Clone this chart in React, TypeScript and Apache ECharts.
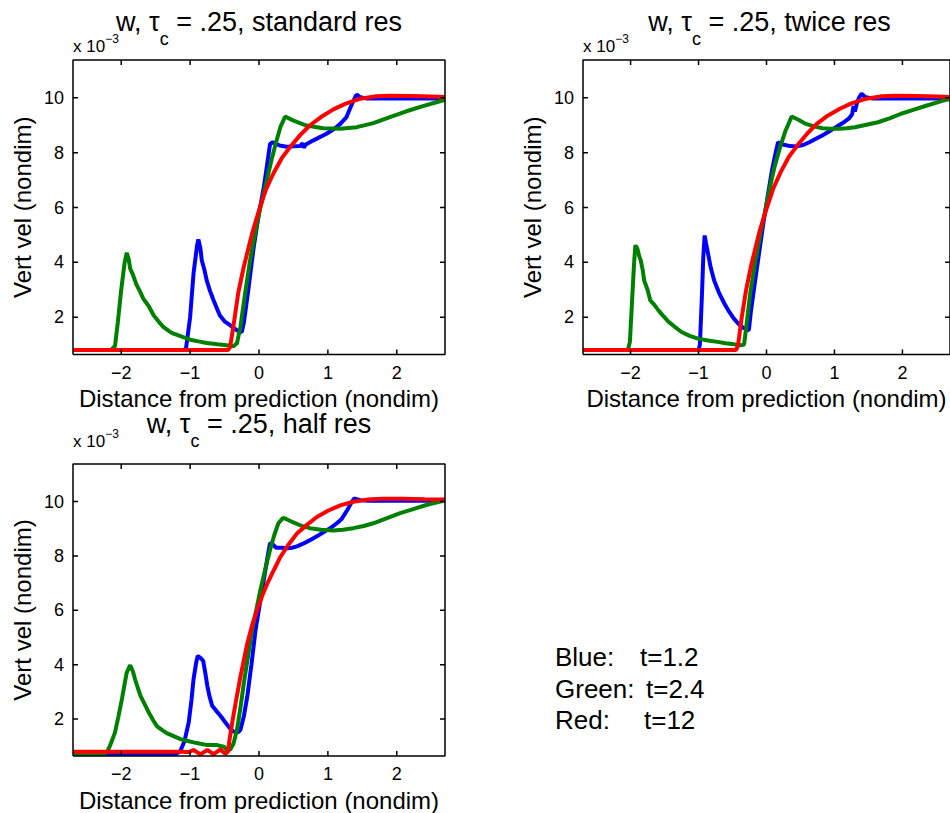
import React, { useEffect, useRef } from 'react';
import * as echarts from 'echarts';

const FONT = '"Liberation Sans", Arial, Helvetica, sans-serif';

// ---------- labels ----------
const panelTitles = ['standard res', 'twice res', 'half res'];
const xLabel = 'Distance from prediction (nondim)';
const yLabel = 'Vert vel (nondim)';
const legendNames = ['Blue:', 'Green:', 'Red:'];
const legendTimes = ['t=1.2', 't=2.4', 't=12'];

// axis limits (y in units of 1e-3) and tick values
const xLimits = [-2.7, 2.7];
const yLimits = [0.64, 11.38];
const xTickVals = [-2, -1, 0, 1, 2];
const yTickVals = [2, 4, 6, 8, 10];

// ---------- data: [distance, vert vel x1e3] ----------
const blueStd = [
  [-2.7, 0.8], [-1.1, 0.8], [-1.06, 0.85], [-1.0, 2.0], [-0.95, 3.6], [-0.9, 4.6], [-0.88, 4.84], [-0.85, 4.5],
  [-0.83, 4.07], [-0.79, 3.7], [-0.76, 3.35], [-0.71, 2.95], [-0.66, 2.62], [-0.57, 2.07], [-0.5, 1.85],
  [-0.42, 1.71], [-0.32, 1.52], [-0.25, 1.46], [-0.22, 1.8], [-0.16, 2.9], [-0.08, 4.5], [0.0, 5.8],
  [0.07, 6.74], [0.12, 7.6], [0.16, 8.32], [0.2, 8.38], [0.3, 8.26], [0.4, 8.22], [0.5, 8.23], [0.6, 8.24],
  [0.63, 8.35], [0.65, 8.18], [0.68, 8.3], [0.79, 8.45], [0.98, 8.69], [1.1, 8.88], [1.18, 9.05], [1.27, 9.3],
  [1.34, 9.72], [1.4, 10.05], [1.42, 10.12], [1.46, 10.03], [1.55, 9.98], [2.0, 9.98], [2.7, 9.98],
];
const greenStd = [
  [-2.7, 0.8], [-2.15, 0.8], [-2.09, 0.95], [-2.05, 1.8], [-2.0, 3.0], [-1.95, 4.0], [-1.92, 4.35], [-1.89, 4.1],
  [-1.87, 3.77], [-1.83, 3.55], [-1.78, 3.2], [-1.73, 2.95], [-1.68, 2.68], [-1.6, 2.4], [-1.53, 2.07],
  [-1.46, 1.85], [-1.39, 1.65], [-1.3, 1.48], [-1.24, 1.4], [-1.1, 1.27], [-1.0, 1.18], [-0.88, 1.12],
  [-0.76, 1.06], [-0.6, 1.01], [-0.47, 0.98], [-0.37, 0.94], [-0.32, 1.05], [-0.27, 1.64], [-0.2, 2.9],
  [-0.13, 4.07], [-0.06, 5.0], [0.01, 5.89], [0.1, 6.85], [0.18, 7.72], [0.25, 8.4], [0.31, 8.93], [0.38, 9.32],
  [0.5, 9.17], [0.69, 8.99], [0.93, 8.89], [1.18, 8.87], [1.42, 8.93], [1.66, 9.08], [1.9, 9.3], [2.14, 9.51],
  [2.38, 9.7], [2.55, 9.82], [2.7, 9.93],
];
const redStd = [
  [-2.7, 0.8], [-0.45, 0.8], [-0.42, 0.9], [-0.37, 1.7], [-0.3, 2.9], [-0.22, 3.85], [-0.1, 5.05], [0.0, 5.9],
  [0.1, 6.65], [0.21, 7.25], [0.33, 7.8], [0.45, 8.2], [0.6, 8.65], [0.74, 9.0], [0.9, 9.3], [1.08, 9.58],
  [1.25, 9.78], [1.47, 9.97], [1.7, 10.06], [1.9, 10.08], [2.2, 10.07], [2.5, 10.05], [2.7, 10.03],
];

const blueTwice = [
  [-2.7, 0.8], [-1.0, 0.8], [-0.98, 1.0], [-0.95, 2.8], [-0.93, 4.2], [-0.91, 4.98], [-0.89, 4.7], [-0.86, 4.32],
  [-0.82, 3.8], [-0.77, 3.34], [-0.7, 2.9], [-0.62, 2.5], [-0.55, 2.2], [-0.48, 1.95], [-0.42, 1.78],
  [-0.36, 1.64], [-0.3, 1.56], [-0.26, 1.52], [-0.23, 2.2], [-0.16, 3.46], [-0.1, 4.5], [-0.04, 5.53],
  [0.02, 6.45], [0.08, 7.35], [0.13, 7.95], [0.17, 8.38], [0.24, 8.3], [0.35, 8.24], [0.44, 8.23], [0.54, 8.28],
  [0.63, 8.38], [0.72, 8.5], [0.82, 8.63], [0.92, 8.77], [1.02, 8.93], [1.12, 9.08], [1.21, 9.24], [1.26, 9.4],
  [1.28, 9.7], [1.3, 9.5], [1.33, 9.8], [1.36, 10.0], [1.4, 10.15], [1.45, 10.03], [1.55, 9.98], [2.0, 9.98],
  [2.7, 9.98],
];
const greenTwice = [
  [-2.7, 0.8], [-2.04, 0.8], [-2.01, 1.1], [-1.98, 2.5], [-1.95, 3.9], [-1.93, 4.62], [-1.9, 4.5], [-1.87, 4.2],
  [-1.85, 4.07], [-1.82, 3.7], [-1.8, 3.34], [-1.75, 3.0], [-1.71, 2.61], [-1.65, 2.45], [-1.59, 2.25],
  [-1.52, 2.05], [-1.44, 1.83], [-1.35, 1.65], [-1.25, 1.46], [-1.13, 1.32], [-1.01, 1.22], [-0.86, 1.15],
  [-0.72, 1.1], [-0.6, 1.05], [-0.48, 1.01], [-0.36, 0.98], [-0.33, 1.0], [-0.3, 1.6], [-0.24, 2.86],
  [-0.17, 3.95], [-0.09, 5.05], [0.0, 6.1], [0.05, 6.74], [0.12, 7.5], [0.2, 8.2], [0.28, 8.8], [0.37, 9.32],
  [0.47, 9.2], [0.58, 9.05], [0.7, 8.96], [0.82, 8.89], [0.94, 8.87], [1.06, 8.87], [1.18, 8.89], [1.3, 8.93],
  [1.47, 9.02], [1.64, 9.11], [1.81, 9.25], [1.98, 9.42], [2.17, 9.57], [2.36, 9.72], [2.6, 9.9], [2.7, 9.96],
];
const redTwice = [
  [-2.7, 0.8], [-0.45, 0.8], [-0.42, 0.95], [-0.37, 1.9], [-0.3, 3.0], [-0.22, 3.95], [-0.1, 5.15], [0.0, 5.95],
  [0.1, 6.7], [0.21, 7.3], [0.33, 7.85], [0.45, 8.25], [0.6, 8.7], [0.74, 9.05], [0.9, 9.35], [1.08, 9.6],
  [1.25, 9.8], [1.47, 9.97], [1.7, 10.06], [1.9, 10.08], [2.2, 10.07], [2.5, 10.05], [2.7, 10.03],
];

const blueHalf = [
  [-2.7, 0.72], [-1.2, 0.72], [-1.14, 0.83], [-1.08, 1.2], [-1.02, 1.88], [-0.98, 2.7], [-0.95, 3.47],
  [-0.91, 4.1], [-0.89, 4.32], [-0.85, 4.25], [-0.81, 4.14], [-0.78, 3.7], [-0.75, 3.22], [-0.72, 2.85],
  [-0.68, 2.49], [-0.62, 2.3], [-0.56, 2.12], [-0.49, 1.88], [-0.42, 1.65], [-0.37, 1.54], [-0.3, 1.52],
  [-0.27, 1.6], [-0.22, 2.1], [-0.17, 2.83], [-0.11, 4.0], [-0.05, 5.28], [0.01, 6.2], [0.07, 7.12],
  [0.12, 7.9], [0.16, 8.47], [0.2, 8.42], [0.25, 8.3], [0.33, 8.3], [0.41, 8.28], [0.48, 8.3], [0.55, 8.35],
  [0.64, 8.45], [0.74, 8.58], [0.84, 8.72], [0.94, 8.88], [1.04, 9.03], [1.13, 9.2], [1.2, 9.36], [1.28, 9.68],
  [1.34, 9.95], [1.38, 10.11], [1.47, 10.05], [1.6, 10.03], [2.0, 10.03], [2.7, 10.03],
];
const greenHalf = [
  [-2.7, 0.72], [-2.25, 0.72], [-2.2, 0.8], [-2.15, 1.1], [-2.09, 1.51], [-2.04, 2.1], [-1.99, 2.73],
  [-1.95, 3.3], [-1.92, 3.71], [-1.87, 3.98], [-1.83, 3.75], [-1.8, 3.47], [-1.76, 3.15], [-1.72, 2.85],
  [-1.66, 2.55], [-1.6, 2.24], [-1.54, 1.97], [-1.48, 1.73], [-1.41, 1.6], [-1.34, 1.48], [-1.24, 1.37],
  [-1.14, 1.26], [-1.05, 1.2], [-0.95, 1.14], [-0.85, 1.09], [-0.75, 1.04], [-0.61, 1.04], [-0.51, 0.98],
  [-0.47, 0.88], [-0.42, 0.87], [-0.37, 1.1], [-0.32, 1.6], [-0.27, 2.4], [-0.22, 3.32], [-0.16, 4.3],
  [-0.1, 5.28], [-0.04, 6.0], [0.02, 6.75], [0.09, 7.5], [0.16, 8.22], [0.22, 8.75], [0.28, 9.2], [0.35, 9.4],
  [0.4, 9.35], [0.5, 9.23], [0.62, 9.1], [0.74, 9.02], [0.9, 8.96], [1.08, 8.93], [1.22, 8.96], [1.37, 9.02],
  [1.52, 9.1], [1.66, 9.2], [1.85, 9.38], [2.05, 9.57], [2.25, 9.73], [2.44, 9.88], [2.6, 9.98], [2.7, 10.04],
];
const redHalf = [
  [-2.7, 0.8], [-1.1, 0.8], [-1.02, 0.78], [-0.95, 0.86], [-0.85, 0.7], [-0.75, 0.86], [-0.66, 0.71],
  [-0.56, 0.88], [-0.49, 0.72], [-0.45, 0.8], [-0.43, 1.2], [-0.39, 1.85], [-0.34, 2.58], [-0.27, 3.55],
  [-0.17, 4.78], [-0.1, 5.45], [-0.03, 6.0], [0.05, 6.55], [0.12, 6.98], [0.22, 7.5], [0.31, 7.96],
  [0.43, 8.42], [0.55, 8.82], [0.7, 9.15], [0.84, 9.43], [1.0, 9.66], [1.18, 9.86], [1.37, 9.99], [1.57, 10.07],
  [1.8, 10.1], [2.1, 10.1], [2.4, 10.08], [2.7, 10.07],
];

const panelData = [
  [blueStd, greenStd, redStd],
  [blueTwice, greenTwice, redTwice],
  [blueHalf, greenHalf, redHalf],
];
const lineColors = ['#0000ff', '#008000', '#ff0000'];

// ---------- layout ----------
const grids = [
  { left: 73, top: 60, width: 372, height: 294.5 },
  { left: 583, top: 60, width: 373, height: 294.5 },
  { left: 73, top: 464, width: 372, height: 293 },
];
const TICK_PX = 5;

function fmt(v: number) {
  return String(v).replace('-', '\u2212');
}

export default function App() {
  const ref = useRef<HTMLDivElement>(null);
  useEffect(() => {
    if (!ref.current) return;
    const chart = echarts.init(ref.current, undefined, { renderer: 'svg' });
    const xAxis: any[] = [];
    const yAxis: any[] = [];
    const series: any[] = [];
    const graphic: any[] = [];
    const [x0, x1] = xLimits;
    const [y0, y1] = yLimits;
    grids.forEach((g, i) => {
      const mk = () => ({
        gridIndex: i,
        type: 'value',
        splitLine: { show: false },
        axisLine: { show: false, onZero: false },
        axisTick: { show: false },
      });
      xAxis.push({
        ...mk(), position: 'bottom', min: x0, max: x1,
        axisLabel: { showMinLabel: false, showMaxLabel: false, formatter: fmt, fontSize: 18, fontFamily: FONT, color: '#000', margin: 9 },
        name: xLabel, nameLocation: 'middle', nameGap: 32,
        nameTextStyle: { fontSize: 24, fontFamily: FONT, color: '#000' },
      });
      yAxis.push({
        ...mk(), position: 'left', min: y0, max: y1,
        axisLabel: { showMinLabel: false, showMaxLabel: false, formatter: fmt, fontSize: 18, fontFamily: FONT, color: '#000', margin: 9 },
        name: yLabel, nameLocation: 'middle', nameGap: 39,
        nameTextStyle: { fontSize: 24, fontFamily: FONT, color: '#000' },
      });
      panelData[i].forEach((d, k) => {
        series.push({
          type: 'line', xAxisIndex: i, yAxisIndex: i, data: d,
          showSymbol: false, smooth: false,
          lineStyle: { color: lineColors[k], width: 4 },
        });
      });
      // axes box (MATLAB "box on") drawn through the axis scales
      series.push({
        type: 'line', xAxisIndex: i, yAxisIndex: i, clip: false, silent: true, z: 6,
        showSymbol: false, smooth: false,
        data: [[x0, y0], [x1, y0], [x1, y1], [x0, y1], [x0, y0]],
        lineStyle: { color: '#000', width: 1.5 },
      });
      // inward tick marks on all four sides
      const dx = (TICK_PX * (x1 - x0)) / g.width;
      const dy = (TICK_PX * (y1 - y0)) / g.height;
      const tickData: any[] = [];
      xTickVals.forEach((v) => {
        tickData.push([v, y0], [v, y0 + dy], ['-', '-']);
        tickData.push([v, y1 - dy], [v, y1], ['-', '-']);
      });
      yTickVals.forEach((v) => {
        tickData.push([x0, v], [x0 + dx, v], ['-', '-']);
        tickData.push([x1 - dx, v], [x1, v], ['-', '-']);
      });
      series.push({
        type: 'line', xAxisIndex: i, yAxisIndex: i, clip: false, silent: true, z: 6,
        showSymbol: false, smooth: false, connectNulls: false,
        data: tickData,
        lineStyle: { color: '#000', width: 1.5 },
      });
      const cx = g.left + g.width / 2;
      const titleTop = g.top - 51.3 - (i === 2 ? 2 : 0);
      graphic.push({
        type: 'text', x: cx, y: titleTop,
        style: {
          text: '{n|w, \u03c4}{s|c}{n| = .25, ' + panelTitles[i] + '}',
          align: 'center', verticalAlign: 'top',
          rich: {
            n: { fontSize: 27, lineHeight: 27, verticalAlign: 'top', fontFamily: FONT, fill: '#000' },
            s: { fontSize: 18, lineHeight: 39, verticalAlign: 'bottom', fontFamily: FONT, fill: '#000' },
          },
        },
      });
      graphic.push({
        type: 'text', x: g.left, y: g.top - 27.5 - (i === 2 ? 9 : 0),
        style: {
          text: '{n|x 10}{s|\u22123}',
          align: 'left', verticalAlign: 'top',
          rich: {
            n: { fontSize: 17, lineHeight: 28, verticalAlign: 'middle', fontFamily: FONT, fill: '#000' },
            s: { fontSize: 12, lineHeight: 2, verticalAlign: 'top', fontFamily: FONT, fill: '#000' },
          },
        },
      });
    });
    const rowsY = [657, 689, 720];
    const timeX = [640, 646, 644];
    legendNames.forEach((n, i) => {
      graphic.push({ type: 'text', x: 555, y: rowsY[i], style: { text: n, fontSize: 26, fontFamily: FONT, fill: '#000', verticalAlign: 'middle' } });
      graphic.push({ type: 'text', x: timeX[i], y: rowsY[i], style: { text: legendTimes[i], fontSize: 26, fontFamily: FONT, fill: '#000', verticalAlign: 'middle' } });
    });
    chart.setOption({
      animation: false,
      backgroundColor: '#fff',
      grid: grids.map((g) => ({ ...g, show: false })),
      xAxis, yAxis, series, graphic,
    });
    return () => chart.dispose();
  }, []);
  return <div ref={ref} style={{ position: 'absolute', left: 0, top: 0, width: 950, height: 813 }} />;
}
